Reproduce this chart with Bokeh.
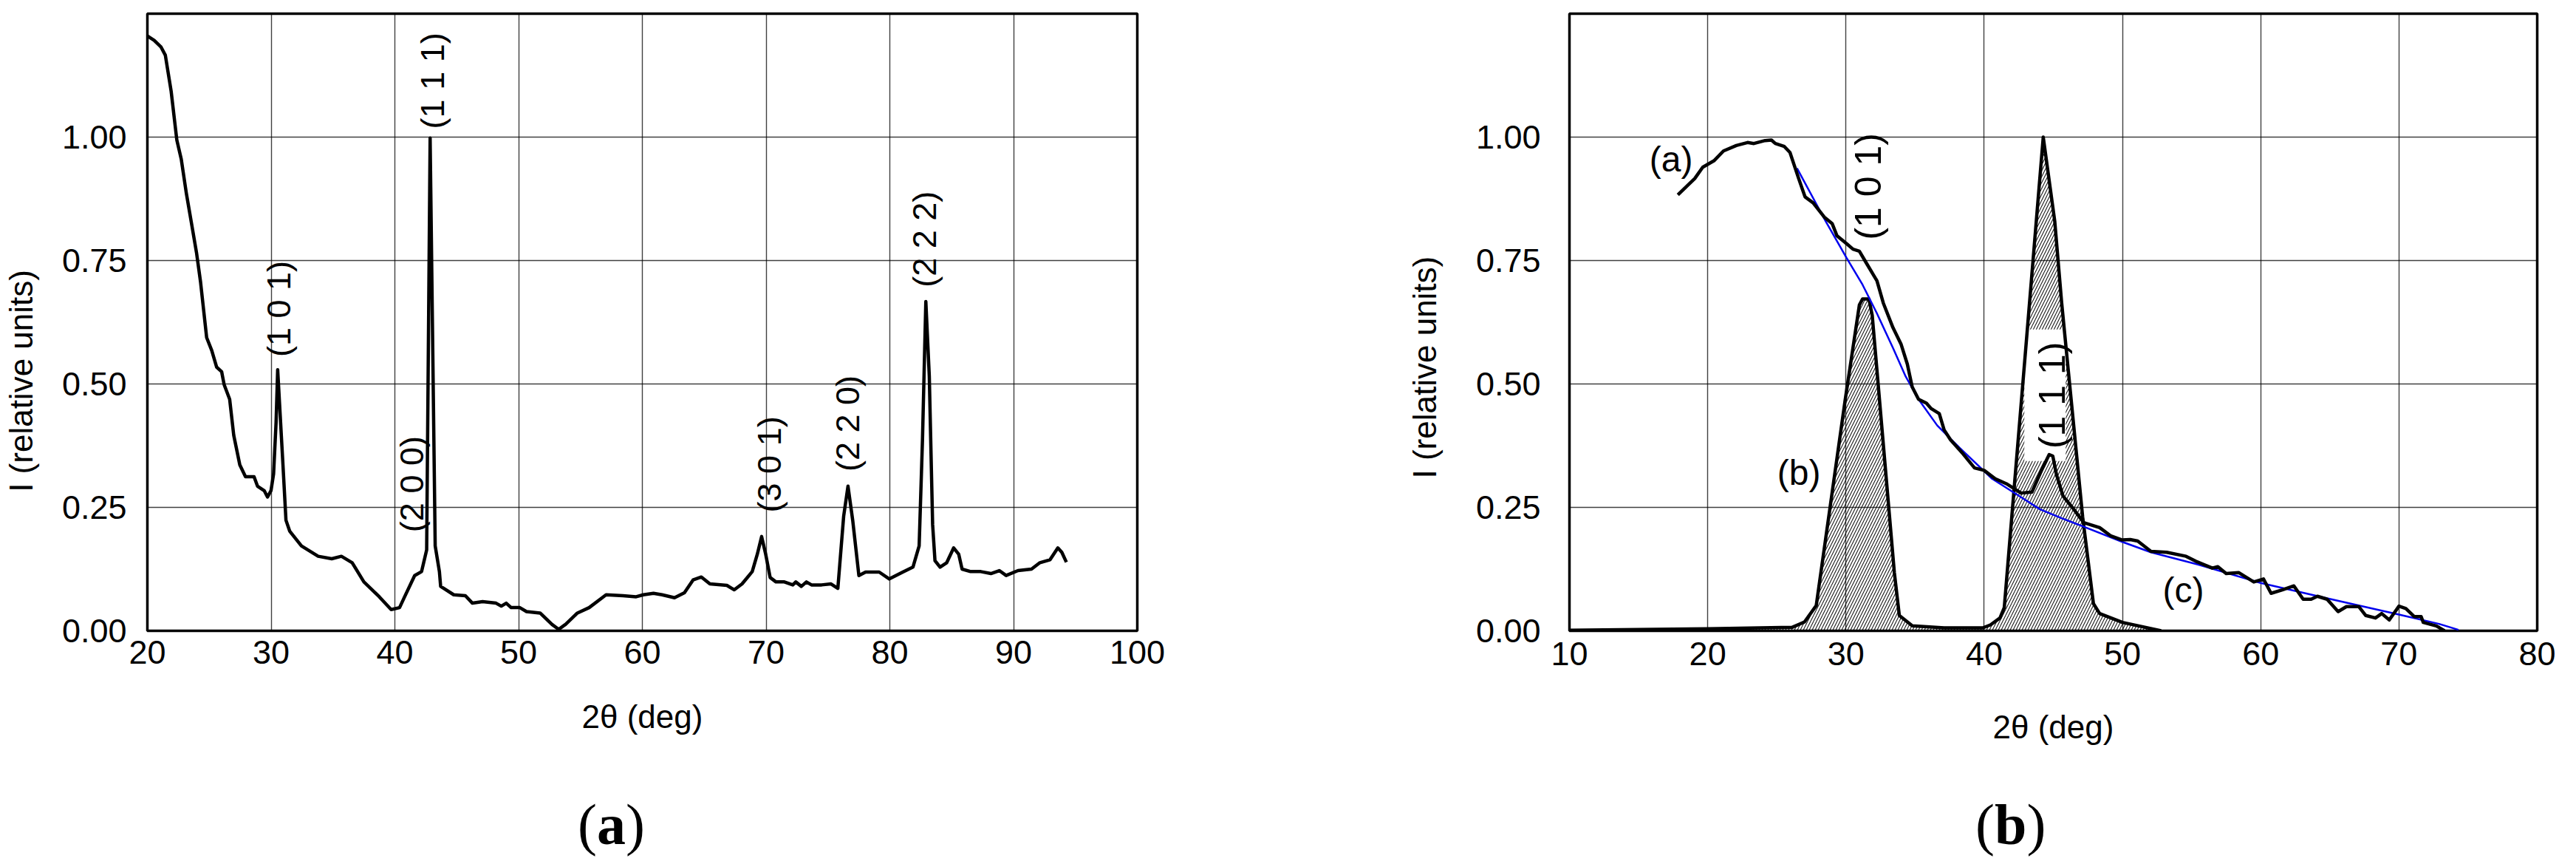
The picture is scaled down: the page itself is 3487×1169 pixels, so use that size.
#bokeh graph - XRD patterns, two panels

from math import pi
from bokeh.plotting import figure
from bokeh.layouts import row, column
from bokeh.models import Range1d, FixedTicker, NumeralTickFormatter, Label, Div
from bokeh.embed import file_html
from bokeh.resources import INLINE

#data - panel (a), full pattern
lx = [20, 20.55, 21.09, 21.45, 21.92, 22.38, 22.74, 23.15, 23.56, 23.97,
      24.3, 24.79, 25.2, 25.6, 26.0, 26.2, 26.65, 26.98, 27.47, 27.93,
      28.62, 28.9, 29.44, 29.71, 29.99, 30.2, 30.4, 30.53, 30.67, 30.94,
      31.2, 31.5, 32.45, 33.8, 34.9, 35.68, 36.55, 37.5, 38.74, 39.7,
      40.38, 40.79, 41.6, 42.16, 42.57, 42.85, 43.26, 43.6, 43.7, 44.76,
      45.7, 46.27, 47.09, 48.18, 48.6, 49.0, 49.4, 50.1, 50.64, 51.74,
      52.7, 53.24, 53.79, 54.75, 55.7, 57.07, 58.44, 59.5, 60.08, 60.9,
      61.6, 62.6, 63.4, 64.1, 64.77, 65.46, 66.83, 67.43, 68.06, 68.88,
      69.29, 69.64, 69.97, 70.33, 70.8, 71.48, 72.16, 72.4, 72.85, 73.26,
      73.67, 74.49, 75.25, 75.8, 76.27, 76.62, 77.0, 77.5, 78.04, 79.14,
      79.96, 81.05, 81.87, 82.37, 82.64, 82.91, 83.19, 83.46, 83.65, 84.06,
      84.6, 85.16, 85.57, 85.84, 86.53, 87.35, 88.17, 88.85, 89.4, 90.36,
      91.45, 92.13, 92.95, 93.58, 93.9, 94.27]
ly = [1.205, 1.196, 1.183, 1.166, 1.093, 0.994, 0.955, 0.886, 0.826, 0.766,
      0.706, 0.594, 0.568, 0.534, 0.525, 0.499, 0.469, 0.396, 0.336, 0.312,
      0.312, 0.293, 0.284, 0.271, 0.284, 0.318, 0.422, 0.529, 0.465, 0.344,
      0.224, 0.202, 0.172, 0.151, 0.146, 0.151, 0.138, 0.099, 0.069, 0.043,
      0.047, 0.069, 0.112, 0.120, 0.164, 0.998, 0.172, 0.120, 0.090, 0.073,
      0.071, 0.056, 0.059, 0.056, 0.050, 0.056, 0.047, 0.047, 0.039, 0.036,
      0.013, 0.003, 0.013, 0.036, 0.047, 0.073, 0.071, 0.069, 0.073, 0.076,
      0.073, 0.067, 0.077, 0.103, 0.109, 0.095, 0.092, 0.083, 0.095, 0.120,
      0.155, 0.191, 0.155, 0.108, 0.099, 0.099, 0.093, 0.099, 0.090, 0.099,
      0.093, 0.093, 0.095, 0.086, 0.232, 0.293, 0.224, 0.112, 0.119, 0.119,
      0.105, 0.119, 0.129, 0.172, 0.387, 0.667, 0.516, 0.215, 0.142, 0.129,
      0.138, 0.168, 0.155, 0.125, 0.120, 0.120, 0.116, 0.122, 0.112, 0.122,
      0.125, 0.138, 0.144, 0.168, 0.159, 0.139]

#peak labels panel (a)
la_text = ["(1 0 1)", "(2 0 0)", "(1 1 1)", "(3 0 1)", "(2 2 0)", "(2 2 2)"]
la_x = [30.6, 41.4, 43.06, 70.27, 76.57, 82.83]
la_y = [0.652, 0.297, 1.114, 0.337, 0.42, 0.793]

#data - panel (b): measured (a), peaks (b), fitted background (c)
a_x = [17.84, 19.06, 19.64, 20.45, 21.14, 22.07, 22.88, 23.34, 24.15, 24.61,
       24.89, 25.54, 25.95, 26.58, 27.04, 27.62, 28.43, 29.0, 29.35, 30.05,
       30.51, 30.97, 31.43, 32.24, 32.7, 33.4, 33.98, 34.44, 34.79, 35.25,
       35.82, 36.17, 36.75, 37.1, 37.56, 38.48, 39.3, 39.99, 40.8, 41.6,
       42.67, 43.45, 44.16, 44.7, 44.96, 45.23, 45.7, 46.4, 47.2, 48.35,
       49.17, 49.98, 50.56, 51.1, 52.06, 53.2, 54.6, 55.3, 56.5, 56.9,
       57.5, 58.4, 59.5, 60.2, 60.75, 61.56, 62.4, 63.07, 63.65, 64.1,
       64.8, 65.6, 66.2, 67.1, 67.6, 68.3, 68.75, 69.3, 70.0, 70.5,
       71.1, 71.6, 71.76, 72.7, 73.3]
a_y = [0.883, 0.916, 0.939, 0.952, 0.972, 0.983, 0.989, 0.987, 0.993, 0.994,
       0.987, 0.981, 0.969, 0.916, 0.879, 0.867, 0.838, 0.825, 0.800, 0.784,
       0.773, 0.769, 0.747, 0.709, 0.664, 0.614, 0.581, 0.540, 0.494, 0.469,
       0.461, 0.450, 0.440, 0.407, 0.387, 0.358, 0.330, 0.325, 0.308, 0.298,
       0.279, 0.281, 0.326, 0.357, 0.354, 0.316, 0.273, 0.249, 0.219, 0.209,
       0.192, 0.184, 0.185, 0.182, 0.161, 0.159, 0.151, 0.141, 0.127, 0.130,
       0.116, 0.118, 0.099, 0.105, 0.076, 0.083, 0.091, 0.064, 0.064, 0.070,
       0.064, 0.039, 0.049, 0.049, 0.031, 0.026, 0.035, 0.022, 0.050, 0.045,
       0.029, 0.029, 0.017, 0.010, 0.0]

b_x = [10, 20, 26.1, 27.0, 27.85, 29.93, 30.97, 31.2, 31.66, 31.9,
       33.5, 33.86, 34.8, 37.1, 39.9, 40.45, 41.14, 41.45, 43.28, 44.27,
       45.1, 45.6, 47.12, 47.9, 48.35, 50.0, 52.8]
b_y = [0.001, 0.004, 0.007, 0.018, 0.051, 0.465, 0.660, 0.672, 0.672, 0.639,
       0.118, 0.031, 0.010, 0.006, 0.006, 0.012, 0.026, 0.047, 0.665, 1.0,
       0.83, 0.665, 0.231, 0.055, 0.035, 0.017, 0.0]

c_x = [26.46, 28.54, 30.05, 31.2, 32.24, 33.4, 34.32, 35.25, 36.6, 38.25,
       40.57, 42.42, 44.04, 45.6, 47.2, 50.0, 52.06, 55.5, 60.0, 64.8,
       70.0, 72.9, 74.3]
c_y = [0.937, 0.829, 0.755, 0.701, 0.643, 0.573, 0.515, 0.469, 0.416, 0.370,
       0.308, 0.275, 0.246, 0.228, 0.211, 0.180, 0.159, 0.134, 0.097, 0.066,
       0.033, 0.014, 0.002]

#labels panel (b)
lb_text = ["(a)", "(b)", "(c)"]
lb_x = [17.35, 26.6, 54.4]
lb_y = [0.955, 0.320, 0.083]

#tick values
ticks_a = [20, 30, 40, 50, 60, 70, 80, 90, 100]
ticks_b = [10, 20, 30, 40, 50, 60, 70, 80]
ticks_y = [0, 0.25, 0.5, 0.75, 1.0]

SANS = "Liberation Sans"
SERIF = "Liberation Serif"
YTITLE = "I (relative units)"


def style(p, xticks, y_standoff, x_standoff, x_label_standoff, y_label_standoff, shift):
    p.xaxis.ticker = FixedTicker(ticks=xticks)
    p.yaxis.ticker = FixedTicker(ticks=ticks_y)
    p.yaxis.formatter = NumeralTickFormatter(format="0.00")
    p.xgrid.ticker = FixedTicker(ticks=xticks)
    p.ygrid.ticker = FixedTicker(ticks=ticks_y)
    p.grid.grid_line_color = "black"
    p.grid.grid_line_alpha = 0.75
    p.grid.grid_line_width = 1.4
    p.outline_line_color = "black"
    p.outline_line_width = 3.5
    p.outline_line_alpha = 1
    p.axis.axis_line_color = None
    p.axis.major_tick_line_color = None
    p.axis.minor_tick_line_color = None
    p.axis.major_tick_out = 0
    p.axis.major_tick_in = 0
    p.axis.major_label_text_font = SANS
    p.axis.major_label_text_font_size = "45px"
    p.axis.major_label_text_color = "black"
    p.yaxis.major_label_standoff = y_standoff
    p.xaxis.major_label_standoff = x_standoff
    p.xaxis.axis_label = "2\u03b8 (deg)"
    #trailing no-break spaces push the centred title a bit below the frame centre
    p.yaxis.axis_label = YTITLE + "\u00a0" * shift
    p.axis.axis_label_text_font = SANS
    p.axis.axis_label_text_font_size = "44px"
    p.axis.axis_label_text_font_style = "normal"
    p.axis.axis_label_text_color = "black"
    p.xaxis.axis_label_standoff = x_label_standoff
    p.yaxis.axis_label_standoff = y_label_standoff
    p.background_fill_color = "white"
    p.border_fill_color = "white"


def caption(letter, width, pad):
    html = ("<div style='font-family:\"Liberation Serif\"; font-size:78px; line-height:78px; "
            "color:black; white-space:nowrap; padding-top:27px; padding-left:%dpx'>(<b>%s</b>)</div>"
            % (pad, letter))
    return Div(text=html, width=width, height=105)


#panel (a)
f1 = figure(width=1740, height=1045, output_backend="svg", toolbar_location=None,
            x_range=Range1d(20, 100), y_range=Range1d(0, 1.25),
            min_border_left=198, min_border_right=201, min_border_top=18, min_border_bottom=192)
style(f1, ticks_a, 28, 13, 44, 28, 13)
f1.line(lx, ly, line_color="black", line_width=4.5, line_join="round")
for t, x, y in zip(la_text, la_x, la_y):
    f1.add_layout(Label(x=x, y=y, text=t, angle=pi / 2, text_font=SANS, text_font_size="45px",
                        text_color="black", text_align="center", text_baseline="middle"))

#panel (b)
f2 = figure(width=1731, height=1045, output_backend="svg", toolbar_location=None,
            x_range=Range1d(10, 80), y_range=Range1d(0, 1.25),
            min_border_left=384, min_border_right=37, min_border_top=8, min_border_bottom=173)
style(f2, ticks_b, 39, 15, 56, 42, 10)
f2.varea(x=b_x, y1=0, y2=b_y, fill_alpha=0, hatch_pattern="/", hatch_color="black",
         hatch_scale=8, hatch_weight=1.1, hatch_alpha=0.9)
#white box behind the (1 1 1) label
lab111_x, lab111_y = 44.9, 0.477
f2.rect(x=[lab111_x - 0.5], y=[lab111_y], width=56, height=178, width_units="screen",
        height_units="screen", fill_color="white", line_color=None)
f2.line(b_x, b_y, line_color="black", line_width=4.5, line_join="round")
f2.line(c_x, c_y, line_color="#0000ee", line_width=2.5)
f2.line(a_x, a_y, line_color="black", line_width=4.5, line_join="round")
f2.add_layout(Label(x=lab111_x, y=lab111_y, text="(1 1 1)", angle=pi / 2, text_font=SANS,
                    text_font_size="50px", text_color="black", text_align="center",
                    text_baseline="middle"))
f2.add_layout(Label(x=31.6, y=0.90, text="(1 0 1)", angle=pi / 2, text_font=SANS,
                    text_font_size="50px", text_color="black", text_align="center",
                    text_baseline="middle"))
for t, x, y in zip(lb_text, lb_x, lb_y):
    f2.add_layout(Label(x=x, y=y, text=t, text_font=SANS, text_font_size="48px",
                        text_color="black", text_align="center", text_baseline="middle"))

page = column(row(f1, f2), row(caption("a", 1740, 777), caption("b", 1731, 919)))
open("out.html", "w").write(file_html(page, INLINE))
